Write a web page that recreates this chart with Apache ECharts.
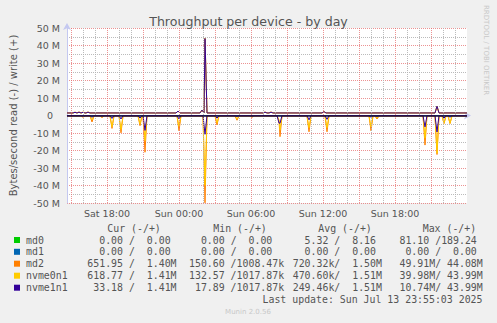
<!DOCTYPE html>
<html><head><meta charset="utf-8">
<script src="https://cdn.jsdelivr.net/npm/echarts@6/dist/echarts.min.js"></script>
<style>html,body{margin:0;padding:0;background:#F0F0F0}#c{width:497px;height:323px}</style>
</head><body><div id="c"></div>
<script>
// ---------- data (values in M bytes/second; times as "Day HH:MM") ----------
const devices = ['md0', 'md1', 'md2', 'nvme0n1', 'nvme1n1'];
const colors = ['#00CC00', '#0066B3', '#FF8000', '#FFCC00', '#330099'];

const xTickHours = [18, 24, 30, 36, 42];
const xTickLabels = ['Sat 18:00', 'Sun 00:00', 'Sun 06:00', 'Sun 12:00', 'Sun 18:00'];

// read (drawn negative) spikes
const readTimes = ['Sat 16:00','Sat 16:45','Sat 17:35','Sat 18:25','Sat 19:10','Sat 20:45','Sat 21:10','Sun 00:00',
  'Sun 02:10','Sun 03:10','Sun 04:50','Sun 06:05','Sun 08:20','Sun 08:25','Sun 10:50','Sun 12:20',
  'Sun 16:00','Sun 16:30','Sun 20:30','Sun 21:30','Sun 22:05','Sun 22:35'];
const md2Read   = [-1.0,-3.7,-1.2,-7.4,-9.9,-5.8,-21.0,-8.7,-49.91,-5.4,-2.7,-1.0,-3.0,-12.1,-9.3,-9.3,-8.7,-2.0,-16.9,-22.3,-4.6,-4.6];
const nvme0Read = [-0.6,-2.6,-0.8,-6.4,-8.0,-4.8,-14.4,-6.2,-39.98,-4.2,-2.0,-0.7,-2.5,-8.3,-7.0,-7.0,-6.5,-1.5,-13.0,-21.5,-4.4,-4.4];
const nvme1Read = [-0.3,-1.0,-0.3,-1.7,-2.0,-1.5,-8.5,-2.0,-10.74,-1.5,-0.5,-0.3,-4.3,-4.4,-2.5,-2.2,-1.0,-0.5,-6.5,-9.4,-1.5,-1.0];
const readBase = [0, 0, -0.3, -0.2, -0.05];

// write (drawn positive) bumps
const writeTimes = ['Sat 15:20','Sat 15:40','Sat 16:00','Sat 16:25','Sat 23:55','Sun 01:55','Sun 02:10','Sun 07:10','Sun 07:40','Sun 12:05','Sun 21:30'];
const md2Write   = [2.0, 2.0, 2.0, 2.0, 2.5, 3.0, 44.08, 2.0, 2.0, 2.2, 5.2];
const nvme0Write = [1.8, 1.9, 1.8, 1.9, 2.5, 3.1, 43.99, 1.9, 1.9, 2.2, 5.3];
const nvme1Write = [1.8, 1.9, 1.8, 1.9, 2.5, 3.1, 43.99, 1.9, 1.9, 2.2, 5.3];
const writeBase = [0, 0, 1.45, 1.45, 1.45];

// legend table
const legCur = [['  0.00 ','  0.00 '],['  0.00 ','  0.00 '],['651.95 ','  1.40M'],['618.77 ','  1.41M'],[' 33.18 ','  1.41M']];
const legMin = [['  0.00 ','  0.00 '],['  0.00 ','  0.00 '],['150.60 ','1008.47k'],['132.57 ','1017.87k'],[' 17.89 ','1017.87k']];
const legAvg = [['  5.32 ','  8.16 '],['  0.00 ','  0.00 '],['720.32k','  1.50M'],['470.60k','  1.51M'],['249.46k','  1.51M']];
const legMax = [[' 81.10 ','189.24 '],['  0.00 ','  0.00 '],[' 49.91M',' 44.08M'],[' 39.98M',' 43.99M'],[' 10.74M',' 43.99M']];
const legHeaders = ['Cur (-/+)', 'Min (-/+)', 'Avg (-/+)', 'Max (-/+)'];
const lastUpdate = 'Last update: Sun Jul 13 23:55:03 2025';

// ---------- build ----------
const START = 176, END = 576; // in 5-minute steps since Sat 00:00
function toStep(s){ const p = s.split(' '); const hm = p[1].split(':').map(Number); return Math.round(((p[0]==='Sun'?24:0)*60 + hm[0]*60 + hm[1]) / 5); }
function build(base, times, vals){
  const m = new Map();
  if (times) times.forEach((t,i) => m.set(toStep(t), vals[i]));
  const keys = [...m.keys()];
  keys.forEach(k => { if(!m.has(k-2) && !m.has(k-1)) m.set(k-2, base); if(!m.has(k+2) && !m.has(k+1)) m.set(k+2, base); });
  if(!m.has(START)) m.set(START, base);
  if(!m.has(END)) m.set(END, base);
  return [...m.keys()].sort((a,b)=>a-b).map(k => [k/12, m.get(k)*1e6]);
}
const readData = [build(readBase[0]), build(readBase[1]), build(readBase[2], readTimes, md2Read), build(readBase[3], readTimes, nvme0Read), build(readBase[4], readTimes, nvme1Read)];
const writeData = [build(writeBase[0]), build(writeBase[1]), build(writeBase[2], writeTimes, md2Write), build(writeBase[3], writeTimes, nvme0Write), build(writeBase[4], writeTimes, nvme1Write)];

const minorGrid = [], majorGrid = [];
for (let h = 15; h <= 47; h++) { (h % 3 === 0 ? majorGrid : minorGrid).push(h); }
const gridMinor = 'rgba(180,180,180,0.9)', gridMajor = 'rgba(230,110,110,0.75)';

const series = [];
devices.forEach((d, i) => {
  series.push({ name: d + ' read', type: 'line', data: readData[i], showSymbol: false, symbol: 'none', lineStyle: { width: 1, color: colors[i] }, itemStyle:{color:colors[i]}, animation: false, silent: true, z: 3 });
  series.push({ name: d + ' write', type: 'line', data: writeData[i], showSymbol: false, symbol: 'none', lineStyle: { width: 1, color: colors[i] }, itemStyle:{color:colors[i]}, animation: false, silent: true, z: 3 });
});
series[0].markLine = { silent: true, symbol: 'none', label: { show: false }, animation: false,
  data: minorGrid.map(h => ({ xAxis: h, lineStyle: { color: gridMinor, type: 'dotted', width: 1 } }))
    .concat(majorGrid.map(h => ({ xAxis: h, lineStyle: { color: gridMajor, type: 'dotted', width: 1 } }))) };
series[series.length-1].markLine = { silent: true, symbol: 'none', label: { show: false }, animation: false,
  data: [{ yAxis: 0, lineStyle: { color: '#1a0c3a', type: 'solid', width: 1.5 } }] };

// legend graphics
const mono = 'DejaVu Sans Mono', cw = 5.95, txt = '#555';
const monoFont = '9.9px "' + mono + '"';
const colX = [87.3, 189, 292.7, 393.5];
const headX = [107.3, 213.3, 318.3, 422.7];
const rowY = [240, 251.8, 263.7, 275.7, 287.7];
const graphics = [];
function t(x, y, s, align){ graphics.push({ type: 'text', x: x, y: y, silent: true, style: { text: s, fill: txt, font: monoFont, textAlign: align || 'left', textVerticalAlign: 'middle' } }); }
legHeaders.forEach((h, i) => t(headX[i], 228.3, h));
const cols = [legCur, legMin, legAvg, legMax];
devices.forEach((d, r) => {
  graphics.push({ type: 'rect', silent: true, shape: { x: 14, y: rowY[r] - 3, width: 6, height: 6 }, style: { fill: colors[r] } });
  t(26, rowY[r], d);
  cols.forEach((c, ci) => {
    const rd = c[r][0], wr = c[r][1], x0 = colX[ci];
    const rdT = rd.replace(/\s+$/, '');
    const wrT = wr.replace(/\s+$/, '');
    if (wr.length > 7) {
      // long write value: one string, read part + '/' + write part
      t(x0 + (rd.length - rd.trimStart().length) * cw, rowY[r], rd.trim() + ' /' + wr.trim());
      return;
    }
    t(x0 + rdT.length * cw, rowY[r], rdT.trim(), 'right');
    t(x0 + 7 * cw, rowY[r], '/');
    t(x0 + 15 * cw - (wr.length - wrT.length) * cw, rowY[r], wrT.trim(), 'right');
  });
});
t(482.5, 299, lastUpdate, 'right');
graphics.push({ type: 'text', silent: true, x: 248, y: 312, style: { text: 'Munin 2.0.56', fill: '#c8c8c8', font: '7px "DejaVu Sans"', textAlign: 'center', textVerticalAlign: 'middle' } });
graphics.push({ type: 'text', silent: true, x: 486, y: 5, rotation: -Math.PI / 2, style: { text: 'RRDTOOL / TOBI OETIKER', fill: '#c8c8c8', font: '7px "DejaVu Sans"', textAlign: 'left', textVerticalAlign: 'middle' } });

const chart = echarts.init(document.getElementById('c'), null, { renderer: 'svg' });
chart.setOption({
  animation: false,
  backgroundColor: '#F0F0F0',
  title: { text: 'Throughput per device - by day', left: 'center', top: 10, textStyle: { fontFamily: 'DejaVu Sans', fontSize: 12.6, fontWeight: 'normal', color: '#555' } },
  grid: { left: 67, right: 30, top: 28, bottom: 120, show: true, backgroundColor: '#ffffff', borderWidth: 0, containLabel: false },
  xAxis: {
    type: 'value', min: START / 12, max: END / 12,
    axisLine: { show: true, lineStyle: { color: '#c4c8f0', width: 1 }, symbol: ['none', 'arrow'], symbolSize: [6, 7], symbolOffset: [0, 4] },
    axisTick: { show: true, customValues: majorGrid, length: 2, lineStyle: { color: gridMajor } },
    splitLine: { show: false },
    axisLabel: { customValues: xTickHours, margin: 5, fontFamily: 'DejaVu Sans', fontSize: 9.5, color: '#555',
      formatter: v => xTickLabels[xTickHours.indexOf(Math.round(v))] || '' }
  },
  yAxis: {
    type: 'value', min: -50e6, max: 50e6, interval: 10e6,
    name: 'Bytes/second read (-) / write (+)', nameLocation: 'middle', nameGap: 49, nameRotate: 90,
    nameTextStyle: { fontFamily: 'DejaVu Sans', fontSize: 10, color: '#555' },
    axisLine: { show: true, lineStyle: { color: '#c4c8f0', width: 1 }, symbol: ['none', 'arrow'], symbolSize: [6, 7], symbolOffset: [0, 5] },
    axisTick: { show: false },
    axisLabel: { margin: 7, fontFamily: 'DejaVu Sans', fontSize: 9.5, color: '#555',
      formatter: v => v === 0 ? '{z|0}' : (v / 1e6) + ' M',
      rich: { z: { fontFamily: 'DejaVu Sans', fontSize: 9.5, color: '#555', padding: [0, 7, 0, 0] } } },
    splitLine: { show: true, lineStyle: { color: gridMajor, type: 'dotted', width: 1 } },
    minorTick: { show: false, splitNumber: 2 },
    minorSplitLine: { show: true, lineStyle: { color: gridMinor, type: 'dotted', width: 1 } }
  },
  series: series,
  graphic: graphics
});
</script></body></html>
